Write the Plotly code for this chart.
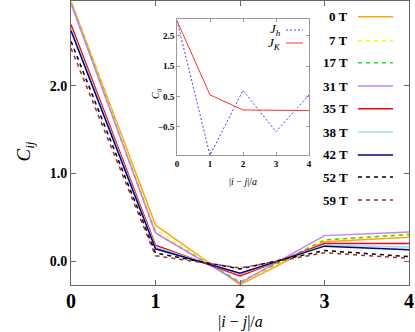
import plotly.graph_objects as go

# === DATOS ===
x_dist = [0, 1, 2, 3, 4]

labels = ["0 T", "7 T", "17 T", "31 T", "35 T", "38 T", "42 T", "52 T", "59 T"]
c_0T = [2.97, 0.41, -0.27, 0.22, 0.27]
c_7T = [2.97, 0.36, -0.25, 0.24, 0.31]
c_17T = [2.95, 0.32, -0.24, 0.24, 0.30]
c_31T = [2.94, 0.32, -0.25, 0.29, 0.33]
c_35T = [2.70, 0.18, -0.17, 0.20, 0.20]
c_38T = [2.66, 0.16, -0.15, 0.18, 0.16]
c_42T = [2.63, 0.14, -0.14, 0.17, 0.13]
c_52T = [2.51, 0.09, -0.09, 0.12, 0.05]
c_59T = [2.43, 0.06, -0.08, 0.095, 0.03]
series = [c_0T, c_7T, c_17T, c_31T, c_35T, c_38T, c_42T, c_52T, c_59T]

colors = ["#ffa500", "#ffff00", "#22dd22", "#c080ff", "#ff0000",
          "#a0d8f0", "#000080", "#000000", "#a52a2a"]
dashes = ["solid", "4px,4px", "4px,4px", "solid", "solid", "solid", "solid", "4px,4px", "4px,4px"]

# Inset: J_h y J_K
inset_x = [0, 1, 2, 3, 4]
c_Jh = [3.0, -1.45, 0.70, -0.67, 0.55]
c_JK = [3.0, 0.55, 0.05, 0.03, 0.03]

SERIF = "Liberation Serif"
AXCOL = "#666666"

fig = go.Figure()

for name, y, col, d in zip(labels, series, colors, dashes):
    fig.add_trace(go.Scatter(x=x_dist, y=y, mode="lines", name=name,
                             line=dict(color=col, width=1.5, dash=d),
                             showlegend=False))

fig.add_trace(go.Scatter(x=inset_x, y=c_Jh, mode="lines", xaxis="x2", yaxis="y2",
                         line=dict(color="#4040ff", width=1, dash="2px,2px"), showlegend=False))
fig.add_trace(go.Scatter(x=inset_x, y=c_JK, mode="lines", xaxis="x2", yaxis="y2",
                         line=dict(color="#ff3030", width=1), showlegend=False))

# === LEYENDA MANUAL (texto a la izquierda, muestra a la derecha) ===
leg_y = [16.7, 40.7, 62.7, 86, 108.7, 132, 155, 177, 200]
annotations = []
shapes = []
for lab, py, col, d in zip(labels, leg_y, colors, dashes):
    yp = (285 - py) / 284
    annotations.append(dict(x=(350 - 71) / 338, y=yp, xref="paper", yref="paper",
                            text=lab, showarrow=False, xanchor="right", yanchor="middle",
                            font=dict(family=SERIF, size=13, color="black", weight="bold")))
    shapes.append(dict(type="line", xref="paper", yref="paper",
                       x0=(358 - 71) / 338, x1=(393 - 71) / 338, y0=yp, y1=yp,
                       line=dict(color=col, width=1.5, dash=d)))

# leyenda del inset
for lab, py, col, d in [("<i>J<sub>h</sub></i>", 30, "#4040ff", "2px,2px"),
                        ("<i>J<sub>K</sub></i>", 43, "#ff3030", "solid")]:
    yp = (285 - py) / 284
    annotations.append(dict(x=(283 - 71) / 338, y=yp, xref="paper", yref="paper",
                            text=lab, showarrow=False, xanchor="right", yanchor="middle",
                            font=dict(family=SERIF, size=13, color="black")))
    shapes.append(dict(type="line", xref="paper", yref="paper",
                       x0=(286 - 71) / 338, x1=(303 - 71) / 338, y0=yp, y1=yp,
                       line=dict(color=col, width=1, dash=d)))

# títulos de ejes
annotations.append(dict(x=-60 / 338, y=0.47, xref="paper", yref="paper",
                        text="<i>C<sub>ij</sub></i>", showarrow=False, textangle=-90,
                        font=dict(family=SERIF, size=19, color="black")))
annotations.append(dict(x=0.5, y=-37 / 284, xref="paper", yref="paper",
                        text="|<i>i</i> − <i>j</i>|/<i>a</i>", showarrow=False,
                        yanchor="middle",
                        font=dict(family=SERIF, size=16, color="black")))
annotations.append(dict(x=(243 - 71) / 338, y=(285 - 181) / 284, xref="paper", yref="paper",
                        text="|<i>i</i> − <i>j</i>|/<i>a</i>", showarrow=False,
                        yanchor="middle",
                        font=dict(family=SERIF, size=10, color="black")))
annotations.append(dict(x=(148 - 71) / 338, y=(285 - 86) / 284, xref="paper", yref="paper",
                        text="<i>C<sub>ij</sub></i>", showarrow=False, textangle=-90,
                        font=dict(family=SERIF, size=10, color="black")))

fig.update_layout(
    width=415, height=332,
    margin=dict(l=71, r=6, t=1, b=47),
    plot_bgcolor="white", paper_bgcolor="white",
    xaxis=dict(range=[0, 4], tickvals=[0, 1, 2, 3, 4], showgrid=False, zeroline=False,
               showline=True, linecolor=AXCOL, linewidth=1, mirror="ticks",
               ticks="inside", ticklen=5, tickcolor=AXCOL,
               ticklabeloverflow="allow", ticklabelstandoff=-2,
               tickfont=dict(family=SERIF, size=20, color="black", weight="bold")),
    yaxis=dict(range=[-0.274, 2.97], tickvals=[0, 1, 2], ticktext=["0.0", "1.0", "2.0"],
               showgrid=False, zeroline=False,
               showline=True, linecolor=AXCOL, linewidth=1, mirror="ticks",
               ticks="inside", ticklen=5, tickcolor=AXCOL,
               tickfont=dict(family=SERIF, size=14, color="black", weight="bold")),
    xaxis2=dict(domain=[(177 - 71) / 338, (309 - 71) / 338], anchor="y2",
                range=[0, 4], tickvals=[0, 1, 2, 3, 4], showgrid=False, zeroline=False,
                showline=True, linecolor="#999999", linewidth=1, mirror="ticks",
                ticks="inside", ticklen=3, tickcolor="#999999",
                tickfont=dict(family=SERIF, size=9, color="black", weight="bold")),
    yaxis2=dict(domain=[(285 - 155) / 284, (285 - 19.3) / 284], anchor="x2",
                range=[-1.44, 3.05], tickvals=[-0.5, 0.5, 1.5, 2.5],
                ticktext=["−0.5", "0.5", "1.5", "2.5"],
                showgrid=False, zeroline=False,
                showline=True, linecolor="#999999", linewidth=1, mirror="ticks",
                ticks="inside", ticklen=3, tickcolor="#999999",
                tickfont=dict(family=SERIF, size=9, color="black", weight="bold")),
    annotations=annotations,
    shapes=shapes,
)

# quitar el margen por defecto del body para que el lienzo empiece en (0, 0)
fig.write_html("out.html", config={"displayModeBar": False},
               post_script="document.body.style.margin='0';")
